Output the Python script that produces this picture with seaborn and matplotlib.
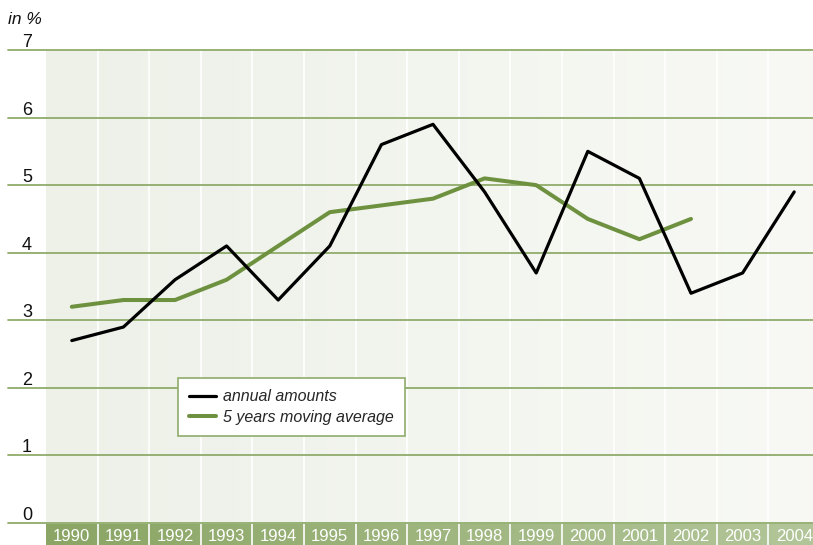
import numpy as np
import pandas as pd
import matplotlib
matplotlib.use("Agg")
import matplotlib.pyplot as plt
from matplotlib.colors import LinearSegmentedColormap
import seaborn as sns

# Data
years = [1990, 1991, 1992, 1993, 1994, 1995, 1996, 1997, 1998, 1999,
         2000, 2001, 2002, 2003, 2004]
annual = [2.7, 2.9, 3.6, 4.1, 3.3, 4.1, 5.6, 5.9, 4.9, 3.7, 5.5, 5.1, 3.4, 3.7, 4.9]
moving_avg = [3.2, 3.3, 3.3, 3.6, 4.1, 4.6, 4.7, 4.8, 5.1, 5.0, 4.5, 4.2, 4.5]
y_ticks = [0, 1, 2, 3, 4, 5, 6, 7]

sns.set_style("white")
plt.rcParams["font.family"] = ["Liberation Sans Narrow", "Liberation Sans", "DejaVu Sans"]

GRID = "#8fab6b"
GREEN = "#6e9140"

W, H = 813, 545
fig = plt.figure(figsize=(W / 100, H / 100), dpi=100)

# plot area in pixels
left, top, bottom = 46, 50, 523
col_w = 51.6
n = len(years)
ax = fig.add_axes([left / W, 1 - bottom / H, n * col_w / W, (bottom - top) / H])

# background gradient + white column separators
bg = LinearSegmentedColormap.from_list("bg", ["#edf1e8", "#f8f9f5"])
ax.imshow(np.linspace(0, 1, 256)[None, :], cmap=bg, aspect="auto",
          extent=(-0.5, n - 0.5, 0, 7), zorder=0)
for i in range(1, n):
    ax.axvline(i - 0.5, color="white", lw=1.2, zorder=1)

# horizontal grid lines, extending to the left of the plot area
x_start = -0.5 - (left - 8) / col_w
for t in y_ticks:
    ax.plot([x_start, n - 0.5], [t, t], color=GRID, lw=1.3, clip_on=False, zorder=2)
    ax.text(-0.5 - (left - 27) / col_w, t + 0.045, str(t), ha="center", va="baseline",
            fontsize=13, color="#111111", clip_on=False)

ax.text(-0.5 - (left - 8) / col_w, 7.38, "in %", ha="left", va="baseline",
        fontsize=12.5, style="italic", color="#111111", clip_on=False)

df_a = pd.DataFrame({"idx": range(n), "value": annual})
df_m = pd.DataFrame({"idx": range(len(moving_avg)), "value": moving_avg})
sns.lineplot(data=df_a, x="idx", y="value", ax=ax, color="black", lw=2.3,
             label="annual amounts", zorder=4)
sns.lineplot(data=df_m, x="idx", y="value", ax=ax, color=GREEN, lw=2.9,
             label="5 years moving average", zorder=3)

ax.set_xlim(-0.5, n - 0.5)
ax.set_ylim(0, 7)
ax.set_xticks([])
ax.set_yticks([])
ax.set_xlabel("")
ax.set_ylabel("")
for s in ax.spines.values():
    s.set_visible(False)

leg = ax.legend(loc="upper left",
                bbox_to_anchor=((178 - left) / (n * col_w), 1 - (378 - top) / (bottom - top)),
                borderaxespad=0, frameon=True, fancybox=False, handlelength=1.7,
                handletextpad=0.4, borderpad=0.7, labelspacing=0.35,
                prop={"style": "italic", "size": 11.5})
leg.get_frame().set_edgecolor(GRID)
leg.get_frame().set_linewidth(1.2)
leg.get_frame().set_facecolor("white")
leg.get_frame().set_alpha(1)
leg.set_zorder(6)

# year strip below the plot
strip = fig.add_axes([left / W, 0, n * col_w / W, (H - bottom - 1) / H])
sc = LinearSegmentedColormap.from_list("strip", ["#8aa564", "#b3c69a"])
strip.imshow(np.linspace(0, 1, 256)[None, :], cmap=sc, aspect="auto",
             extent=(-0.5, n - 0.5, 0, 1), zorder=0)
for i in range(1, n):
    strip.axvline(i - 0.5, color="white", lw=1.2, zorder=1)
for i, yr in enumerate(years):
    strip.text(i, 0.4, str(yr), ha="center", va="center", color="white", fontsize=12)
strip.set_xlim(-0.5, n - 0.5)
strip.set_ylim(0, 1)
strip.axis("off")

fig.savefig("out.png", dpi=100)
